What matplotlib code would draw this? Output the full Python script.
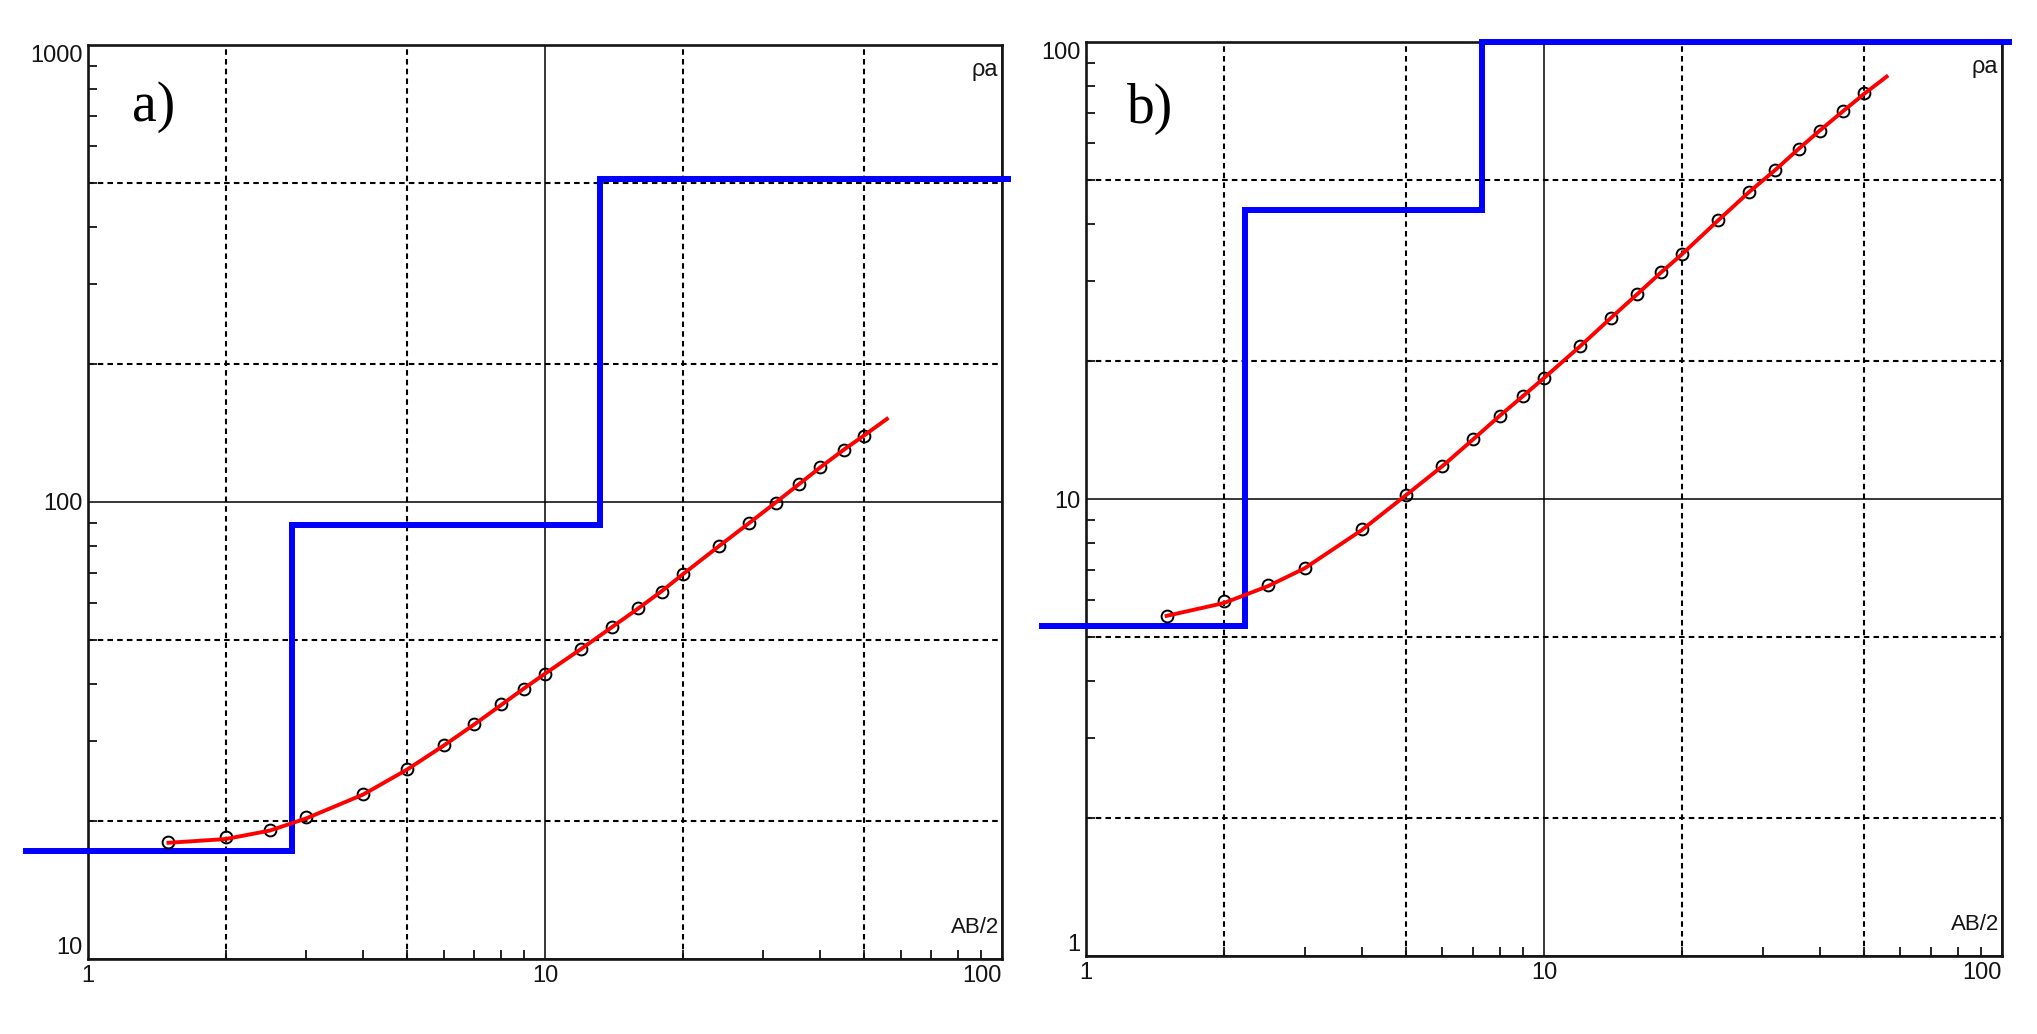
import numpy as np
import matplotlib.pyplot as plt

plt.rcParams['font.family'] = ['Liberation Sans', 'DejaVu Sans']
plt.rcParams['lines.scale_dashes'] = False

# AB/2 spacings (same for both soundings)
ab2 = [1.5, 2, 2.5, 3, 4, 5, 6, 7, 8, 9, 10, 12, 14, 16, 18, 20, 24, 28, 32, 36, 40, 45, 50]

# a) measured apparent resistivity
rho_a = [18.0, 18.5, 19.2, 20.5, 23.0, 26.1, 29.4, 32.7, 36.1, 39.0, 42.0, 47.8, 53.2,
         58.5, 63.7, 69.7, 80.0, 89.9, 99.6, 109.6, 119.4, 130.0, 139.7]
# b) measured apparent resistivity
rho_b = [5.56, 5.98, 6.48, 7.08, 8.59, 10.2, 11.8, 13.5, 15.2, 16.8, 18.4, 21.6, 24.9,
         28.1, 31.4, 34.3, 40.7, 46.9, 52.4, 58.4, 63.9, 70.6, 77.2]

# fitted (model response) curves
fit_x_a = [1.5, 2, 2.5, 3, 4, 5, 6, 7, 8, 9, 10, 12, 14, 16, 18, 20, 24, 28, 32, 36, 40, 45, 50, 56]
fit_a = [17.96, 18.3, 19.1, 20.3, 22.9, 26.0, 29.3, 32.6, 35.9, 39.1, 42.1, 47.7, 53.2,
         58.5, 63.8, 69.4, 80.0, 90.0, 99.8, 109.5, 119.0, 130.0, 140.0, 152.0]
fit_x_b = [1.5, 2, 2.5, 3, 4, 5, 6, 7, 8, 9, 10, 12, 14, 16, 18, 20, 24, 28, 32, 36, 40, 45, 50, 56]
fit_b = [5.55, 5.92, 6.45, 7.05, 8.55, 10.2, 11.8, 13.5, 15.2, 16.8, 18.4, 21.6, 24.9,
         28.1, 31.3, 34.3, 40.7, 46.9, 52.5, 58.4, 64.0, 70.6, 77.0, 84.0]

# layered models: layer boundaries (depth) and resistivities
model_x_a = [0.73, 2.8, 13.2, 103]
model_rho_a = [17.2, 89, 510]
model_x_b = [0.8, 2.22, 7.32, 103.5]
model_rho_b = [5.27, 43.0, 100]

panels = [
    dict(label='a)', ylim=(10, 1000), yticks=[10, 100, 1000], x=ab2, y=rho_a,
         fx=fit_x_a, fy=fit_a, mx=model_x_a, my=model_rho_a,
         pos=[88, 959, 914, 914], lpos=(0.072, 0.932)),
    dict(label='b)', ylim=(1, 100), yticks=[1, 10, 100], x=ab2, y=rho_b,
         fx=fit_x_b, fy=fit_b, mx=model_x_b, my=model_rho_b,
         pos=[1086, 956, 916, 914], lpos=(0.070, 0.927)),
]

W, H = 2037, 1034
fig = plt.figure(figsize=(W / 100, H / 100), dpi=100)
ink = '#141414'

for p in panels:
    l, b, w, h = p['pos']
    ax = fig.add_axes([l / W, (H - b) / H, w / W, h / H])
    ax.set_xscale('log')
    ax.set_yscale('log')
    ax.set_xlim(1, 100)
    ax.set_ylim(*p['ylim'])

    # grid: solid at decades, dashed at 2 and 5
    ax.grid(which='major', color='k', lw=1.1, ls='-')
    for m in [2, 5, 20, 50]:
        ax.axvline(m, color='k', lw=1.5, ls=(0, (4, 3)), zorder=1)
    y0 = p['ylim'][0]
    for m in [2, 5, 20, 50]:
        ax.axhline(y0 * m, color='k', lw=1.5, ls=(0, (4, 3)), zorder=1)

    # layered model (not clipped, runs past the frame)
    ax.step(p['mx'], p['my'] + [p['my'][-1]], where='post', color='#0000ff',
            lw=4.3, clip_on=False, zorder=3, solid_joinstyle='miter')
    # measured points and fitted curve
    ax.plot(p['x'], p['y'], 'o', mfc='none', mec='k', ms=8.5, mew=1.4, zorder=4)
    ax.plot(p['fx'], p['fy'], color='#ff0000', lw=2.8, zorder=5)

    ax.set_xticks([1, 10, 100])
    ax.set_xticklabels(['1', '10', '100'])
    ax.set_yticks(p['yticks'])
    ax.set_yticklabels([str(v) for v in p['yticks']])
    ax.tick_params(which='major', length=0, labelsize=17, colors=ink, pad=4)
    ax.tick_params(which='minor', direction='in', length=6.5, width=1.3, colors=ink,
                   labelleft=False, labelbottom=False)
    xl = ax.get_xticklabels()
    xl[-1].set_ha('right')
    yl = ax.get_yticklabels()
    yl[0].set_va('bottom')
    yl[-1].set_va('top')
    for s in ax.spines.values():
        s.set_linewidth(1.9)
        s.set_color(ink)
        s.set_zorder(2)

    ax.text(0.997, 0.034, 'AB/2', transform=ax.transAxes, ha='right', va='center',
            fontsize=16, color=ink)
    ax.text(0.996, 0.973, 'ρa', transform=ax.transAxes, ha='right', va='center',
            fontsize=17, color=ink)
    ax.text(p['lpos'][0], p['lpos'][1], p['label'], transform=ax.transAxes,
            ha='center', va='center', fontsize=40, family='Liberation Serif', color='k')

fig.savefig('out.png', dpi=100)
